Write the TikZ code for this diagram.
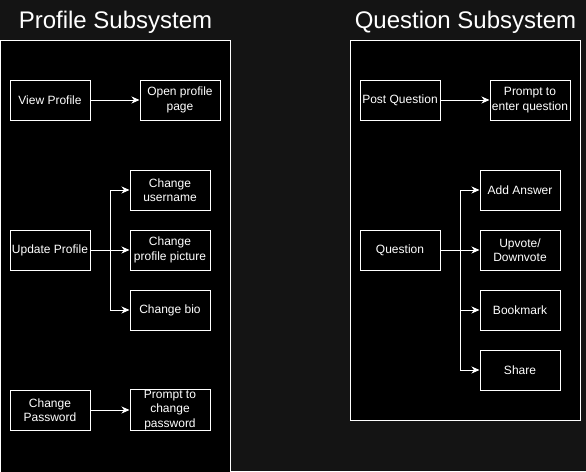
\documentclass[tikz,border=0pt]{standalone}
\usepackage{fontspec}
\setmainfont{Liberation Sans}
\usetikzlibrary{positioning,arrows.meta}
\definecolor{canvas}{RGB}{20,20,20}

\begin{document}
\begin{tikzpicture}[x=1pt,y=-1pt,node distance=120pt,on grid,
  box/.style={draw=white,line width=1pt,fill=black,text=white,minimum width=80pt,
    minimum height=40pt,inner sep=1pt,align=center,font=\fontsize{12}{14.3}\selectfont},
  flow/.style={draw=white,line width=1pt,-{Stealth[length=8pt,width=7pt,inset=2.5pt]}},
  frame/.style={draw=white,line width=1pt,fill=black},
  title/.style={text=white,anchor=base,font=\fontsize{24}{28}\selectfont}]
  \fill[canvas] (0,0) rectangle (586,471);
  \useasboundingbox (0,0) rectangle (586,471);
  \clip (0,0) rectangle (586,471);

  % profile side
  \node[title] (ptitle) at (115.5,28) {Profile Subsystem};
  \draw[frame] (0.5,40.5) rectangle (230.5,480);

  \node[box] (view) at (50,100) {View Profile};
  \node[box] (open) [right=130pt of view] {Open profile\\page};
  \node[box] (upd) [below=150pt of view] {Update Profile};
  \node[box] (pic) [right=of upd] {Change\\profile picture};
  \node[box] (usr) [above=60pt of pic] {Change\\username};
  \node[box] (bio) [below=60pt of pic] {Change bio};
  \node[box] (cpw) [below=160pt of upd] {Change\\Password};
  \node[box] (ppw) [right=of cpw] {Prompt to\\change\\password};

  % question side
  \node[title] (qtitle) at (465.5,28) {Question Subsystem};
  \draw[frame] (350.5,40.5) rectangle (580.5,420.5);

  \node[box] (post) at (400,100) {Post Question};
  \node[box] (enter) [right=130pt of post] {Prompt to\\enter question};
  \node[box] (quest) [below=150pt of post] {Question};
  \node[box] (vote) [right=of quest] {Upvote/\\Downvote};
  \node[box] (ans) [above=60pt of vote] {Add Answer};
  \node[box] (mark) [below=60pt of vote] {Bookmark};
  \node[box] (share) [below=60pt of mark] {Share};

  \draw[flow] (view) -- (open);
  \draw[flow] (upd) -- (pic);
  \draw[flow] (upd.east) -- ++(20,0) |- (usr);
  \draw[flow] (upd.east) -- ++(20,0) |- (bio);
  \draw[flow] (cpw) -- (ppw);

  \draw[flow] (post) -- (enter);
  \draw[flow] (quest) -- (vote);
  \draw[flow] (quest.east) -- ++(20,0) |- (ans);
  \draw[flow] (quest.east) -- ++(20,0) |- (mark);
  \draw[flow] (quest.east) -- ++(20,0) |- (share);
\end{tikzpicture}
\end{document}
